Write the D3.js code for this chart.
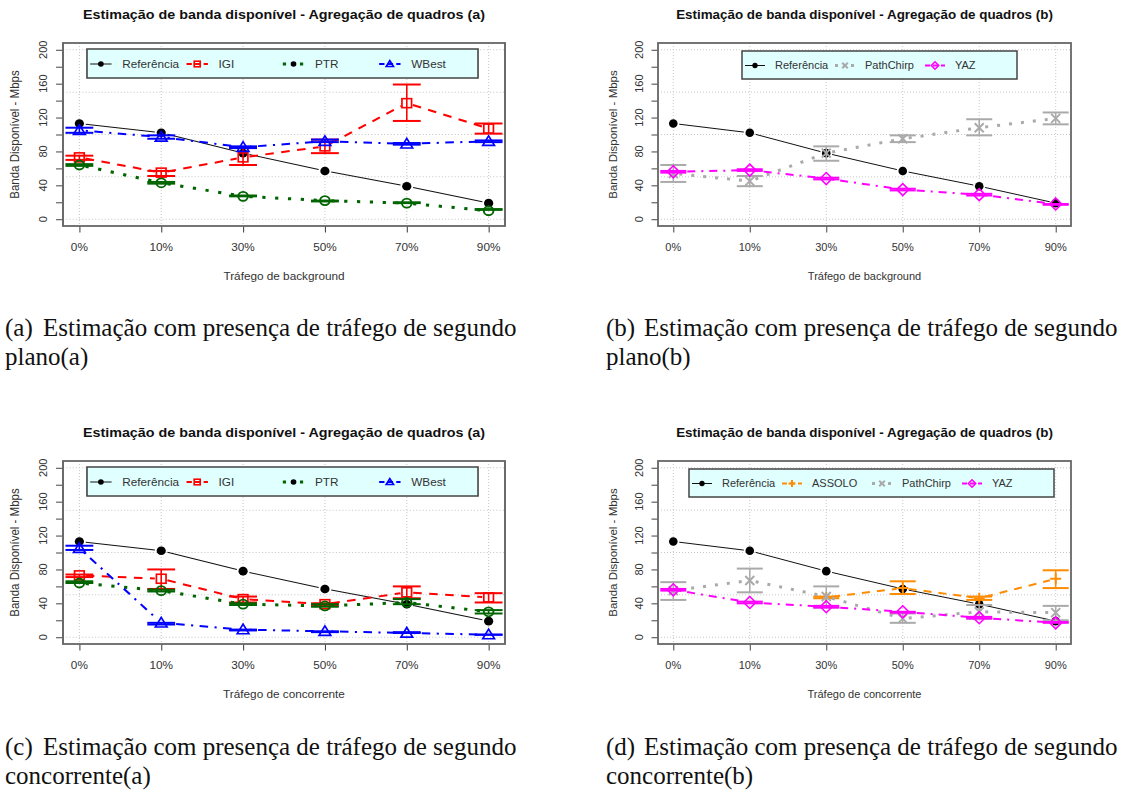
<!DOCTYPE html>
<html>
<head>
<meta charset="utf-8">
<script src="https://cdn.jsdelivr.net/npm/d3@7"></script>
<style>
  body { margin: 0; background: #fff; }
  text { font-family: "Liberation Sans", Arial, sans-serif; }
  .cap { font-family: "Liberation Serif", "Times New Roman", serif; font-size: 25px; fill: #111; }
</style>
</head>
<body>
<svg id="fig" width="1141" height="794"></svg>
<script>
// categories and ticks
var categories = ["0%", "10%", "30%", "50%", "70%", "90%"];
var yTickLabels = [0, 40, 80, 120, 160, 200];
var yMinorTicks = [0, 20, 40, 60, 80, 100, 120, 140, 160, 180, 200];
var yGrid = [0, 50, 100, 150, 200];

// reference (same in every panel)
var refVals = [113, 102, 78, 57, 39, 19];

// (a) background traffic, tools a
var igiA = [73, 55, 73, 86, 137, 107];
var igiALo = [70, 51, 64, 78, 116, 101];
var igiAHi = [75, 57, 84, 94, 159, 113];
var ptrA = [64, 43, 27, 22, 19, 10];
var ptrALo = [63, 42, 27, 21, 19, 11];
var ptrAHi = [65, 44, 28, 22, 20, 12];
var wbestA = [105, 97, 85, 92, 89, 92];
var wbestALo = [102, 95, 84, 91, 88, 91];
var wbestAHi = [108, 99, 86, 94, 90, 93];

// (b) background traffic, tools b
var chirpB = [54, 45, 78, 95, 108, 119];
var chirpBLo = [44, 39, 69, 91, 99, 112];
var chirpBHi = [64, 51, 86, 99, 118, 126];
var yazB = [56, 58, 48, 35, 29, 18];
var yazBLo = [55, 57, 47, 34, 28, 17];
var yazBHi = [57, 59, 49, 36, 30, 18];

// (c) concurrent traffic, tools a
var igiC = [73, 69, 45, 39, 53, 47];
var igiCLo = [71, 57, 41, 37, 46, 41];
var igiCHi = [74, 80, 48, 40, 60, 52];
var ptrC = [64, 55, 39, 37, 41, 30];
var ptrCLo = [64, 54, 38, 36, 39, 28];
var ptrCHi = [66, 56, 40, 39, 45, 32];
var wbestC = [105, 17, 9, 7, 5, 3];
var wbestCLo = [103, 15, 8, 6, 5, 3];
var wbestCHi = [108, 17, 9, 7, 6, 3];

// (d) concurrent traffic, tools b
var assoloD = [null, null, 47, 58, 46, 69];
var assoloDLo = [null, null, 46, 51, 44, 58];
var assoloDHi = [null, null, 48, 66, 48, 79];
var chirpD = [55, 67, 48, 22, 30, 29];
var chirpDLo = [44, 53, 35, 17, 22, 20];
var chirpDHi = [65, 81, 60, 28, 38, 37];
var yazD = [56, 41, 36, 30, 23, 17];
var yazDLo = [55, 40, 35, 29, 22, 17];
var yazDHi = [57, 42, 37, 30, 24, 18];

var styles = {
  ref:    {label: "Referência", color: "#111",    lw: 1, dash: null,          shape: "dot",      leg: "dot"},
  igi:    {label: "IGI",        color: "#ff0000", lw: 2, dash: "8,7",         shape: "square",   leg: "square"},
  ptr:    {label: "PTR",        color: "#006400", lw: 3, dash: "3,9",         shape: "circle",   leg: "dot"},
  wbest:  {label: "WBest",      color: "#0000ff", lw: 2, dash: "2,6,8,6",     shape: "triangle", leg: "triangle"},
  assolo: {label: "ASSOLO",     color: "#ff8c00", lw: 2, dash: "8,7",         shape: "plus",     leg: "plus"},
  chirp:  {label: "PathChirp",  color: "#aaaaaa", lw: 3, dash: "3,9",         shape: "cross",    leg: "cross"},
  yaz:    {label: "YAZ",        color: "#ff00ff", lw: 2, dash: "2,6,8,6",     shape: "diamond",  leg: "diamond"}
};

var titleA = "Estimação de banda disponível - Agregação de quadros (a)";
var titleB = "Estimação de banda disponível - Agregação de quadros (b)";

var panels = [
  {left: 63, top: 43, sx: 1.0702, title: titleA, xlab: "Tráfego de background",
   leg: {x: 22.4, y: 6, w: 365.4, h: 29},
   series: [{s: "ref", v: refVals}, {s: "igi", v: igiA, lo: igiALo, hi: igiAHi},
            {s: "ptr", v: ptrA, lo: ptrALo, hi: ptrAHi}, {s: "wbest", v: wbestA, lo: wbestALo, hi: wbestAHi}]},
  {left: 658, top: 43, sx: 1, title: titleB, xlab: "Tráfego de background",
   leg: {x: 84, y: 8, w: 275, h: 28},
   series: [{s: "ref", v: refVals}, {s: "chirp", v: chirpB, lo: chirpBLo, hi: chirpBHi},
            {s: "yaz", v: yazB, lo: yazBLo, hi: yazBHi}]},
  {left: 63, top: 461, sx: 1.0702, title: titleA, xlab: "Tráfego de concorrente",
   leg: {x: 22.4, y: 6, w: 365.4, h: 29},
   series: [{s: "ref", v: refVals}, {s: "igi", v: igiC, lo: igiCLo, hi: igiCHi},
            {s: "ptr", v: ptrC, lo: ptrCLo, hi: ptrCHi}, {s: "wbest", v: wbestC, lo: wbestCLo, hi: wbestCHi}]},
  {left: 658, top: 461, sx: 1, title: titleB, xlab: "Tráfego de concorrente",
   leg: {x: 31, y: 8, w: 365, h: 28},
   series: [{s: "ref", v: refVals}, {s: "assolo", v: assoloD, lo: assoloDLo, hi: assoloDHi},
            {s: "chirp", v: chirpD, lo: chirpDLo, hi: chirpDHi}, {s: "yaz", v: yazD, lo: yazDLo, hi: yazDHi}]}
];

var captions = [
  {x: 5,   y: 336, tag: "(a)", lines: ["Estimação com presença de tráfego de segundo", "plano(a)"]},
  {x: 606, y: 336, tag: "(b)", lines: ["Estimação com presença de tráfego de segundo", "plano(b)"]},
  {x: 5,   y: 755, tag: "(c)", lines: ["Estimação com presença de tráfego de segundo", "concorrente(a)"]},
  {x: 606, y: 755, tag: "(d)", lines: ["Estimação com presença de tráfego de segundo", "concorrente(b)"]}
];

var boxW = 413, boxH = 183;
var svg = d3.select("#fig");

function marker(g, shape, cx, cy, k, color) {
  var s = 4.5 * k;
  if (shape == "dot") {
    g.append("circle").attr("cx", cx).attr("cy", cy).attr("r", 4.3 * k).attr("fill", "#000");
  } else if (shape == "square") {
    g.append("rect").attr("x", cx - s).attr("y", cy - s).attr("width", 2 * s).attr("height", 2 * s)
      .attr("fill", "none").attr("stroke", color).attr("stroke-width", 1.6);
  } else if (shape == "circle") {
    g.append("circle").attr("cx", cx).attr("cy", cy).attr("r", s)
      .attr("fill", "none").attr("stroke", color).attr("stroke-width", 1.8);
  } else if (shape == "triangle") {
    var h = 5.5 * k;
    g.append("path").attr("d", "M" + cx + "," + (cy - h) + "L" + (cx + h) + "," + (cy + h * 0.75) +
        "L" + (cx - h) + "," + (cy + h * 0.75) + "Z")
      .attr("fill", "none").attr("stroke", color).attr("stroke-width", 1.6);
  } else if (shape == "diamond") {
    var d = 6 * k;
    g.append("path").attr("d", "M" + cx + "," + (cy - d) + "L" + (cx + d) + "," + cy +
        "L" + cx + "," + (cy + d) + "L" + (cx - d) + "," + cy + "Z")
      .attr("fill", "none").attr("stroke", color).attr("stroke-width", 1.6);
  } else if (shape == "cross") {
    g.append("path").attr("d", "M" + (cx - s) + "," + (cy - s) + "L" + (cx + s) + "," + (cy + s) +
        "M" + (cx - s) + "," + (cy + s) + "L" + (cx + s) + "," + (cy - s))
      .attr("stroke", color).attr("stroke-width", 2);
  } else if (shape == "plus") {
    var p = 5.5 * k;
    g.append("path").attr("d", "M" + (cx - p) + "," + cy + "L" + (cx + p) + "," + cy +
        "M" + cx + "," + (cy - p) + "L" + cx + "," + (cy + p))
      .attr("stroke", color).attr("stroke-width", 2);
  }
}

panels.forEach(function(P) {
  var g = svg.append("g").attr("transform", "translate(" + P.left + "," + P.top + ") scale(" + P.sx + ",1)");

  var x = d3.scaleLinear().domain([0.8, 6.2]).range([0, boxW]);
  var y = d3.scaleLinear().domain([-8, 208]).range([boxH, 0]);

  // grid
  g.selectAll(".vg").data(categories).enter().append("line")
    .attr("x1", function(d, i) { return x(i + 1); }).attr("x2", function(d, i) { return x(i + 1); })
    .attr("y1", 0).attr("y2", boxH)
    .attr("stroke", "#c8c8c8").attr("stroke-dasharray", "1,2");
  g.selectAll(".hg").data(yGrid).enter().append("line")
    .attr("x1", 0).attr("x2", boxW)
    .attr("y1", function(d) { return y(d); }).attr("y2", function(d) { return y(d); })
    .attr("stroke", "#c8c8c8").attr("stroke-dasharray", "1,2");

  // axes
  var yAxis = g.append("g").call(d3.axisLeft(y).tickValues(yMinorTicks).tickSize(6.5).tickFormat(""));
  yAxis.select(".domain").remove();
  yAxis.selectAll("line").attr("stroke", "#444");
  g.selectAll(".yl").data(yTickLabels).enter().append("text")
    .attr("transform", function(d) { return "translate(-19," + y(d) + ") rotate(-90)"; })
    .attr("text-anchor", "middle").attr("dy", "0.35em")
    .attr("font-size", 11).attr("fill", "#333").text(function(d) { return d; });

  var xAxis = g.append("g").attr("transform", "translate(0," + boxH + ")")
    .call(d3.axisBottom(x).tickValues(d3.range(1, 7)).tickSize(6.5).tickFormat(""));
  xAxis.select(".domain").remove();
  xAxis.selectAll("line").attr("stroke", "#444");
  g.selectAll(".xl").data(categories).enter().append("text")
    .attr("x", function(d, i) { return x(i + 1); }).attr("y", boxH + 25)
    .attr("text-anchor", "middle").attr("font-size", 11).attr("fill", "#333")
    .text(function(d) { return d; });

  // titles
  g.append("text").attr("x", boxW / 2).attr("y", -24).attr("text-anchor", "middle")
    .attr("font-size", 13.4).attr("font-weight", "bold").attr("fill", "#111").text(P.title);
  g.append("text").attr("x", boxW / 2).attr("y", boxH + 54).attr("text-anchor", "middle")
    .attr("font-size", 11).attr("fill", "#333").text(P.xlab);
  g.append("text").attr("transform", "translate(-45," + boxH / 2 + ") rotate(-90)")
    .attr("text-anchor", "middle").attr("dy", "0.35em")
    .attr("font-size", 11.5).attr("fill", "#333").text("Banda Disponível - Mbps");

  // series
  P.series.forEach(function(S) {
    var st = styles[S.s];
    var pts = [];
    S.v.forEach(function(v, i) { if (v != null) pts.push([x(i + 1), y(v), i]); });
    // lines with gaps at points (type "b")
    var gap = 6;
    for (var k = 0; k < pts.length - 1; k++) {
      var a = pts[k], b = pts[k + 1];
      if (b[2] != a[2] + 1) continue;
      var dx = b[0] - a[0], dy = b[1] - a[1], len = Math.sqrt(dx * dx + dy * dy);
      if (len <= 2 * gap) continue;
      var ux = dx / len, uy = dy / len;
      g.append("line")
        .attr("x1", a[0] + ux * gap).attr("y1", a[1] + uy * gap)
        .attr("x2", b[0] - ux * gap).attr("y2", b[1] - uy * gap)
        .attr("stroke", st.color).attr("stroke-width", st.lw)
        .attr("stroke-dasharray", st.dash);
    }
    // error bars
    if (S.lo) {
      S.v.forEach(function(v, i) {
        if (v == null) return;
        var cx = x(i + 1), c = x(1.17) - x(1);
        g.append("line").attr("x1", cx).attr("x2", cx).attr("y1", y(S.lo[i])).attr("y2", y(S.hi[i]))
          .attr("stroke", st.color).attr("stroke-width", 1.5);
        [S.lo[i], S.hi[i]].forEach(function(e) {
          g.append("line").attr("x1", cx - c).attr("x2", cx + c).attr("y1", y(e)).attr("y2", y(e))
            .attr("stroke", st.color).attr("stroke-width", 2);
        });
      });
    }
    pts.forEach(function(p) { marker(g, st.shape, p[0], p[1], 1, st.color); });
  });

  // legend
  var L = P.leg;
  var lg = g.append("g").attr("transform", "translate(" + L.x + "," + L.y + ")");
  lg.append("rect").attr("width", L.w).attr("height", L.h)
    .attr("fill", "#e0ffff").attr("stroke", "#444").attr("stroke-width", 1.5);
  P.series.forEach(function(S, i) {
    var st = styles[S.s];
    var x0 = 3 + i * 90, cy = L.h / 2 + 0.5;
    lg.append("line").attr("x1", x0).attr("x2", x0 + 20).attr("y1", cy).attr("y2", cy)
      .attr("stroke", st.color).attr("stroke-width", st.lw)
      .attr("stroke-dasharray", st.dash ? (st.lw == 3 ? "3,5" : "5,3") : null);
    marker(lg, st.leg, x0 + 10, cy, 0.62, st.color);
    lg.append("text").attr("x", x0 + 30).attr("y", cy).attr("dy", "0.35em")
      .attr("font-size", 11).attr("fill", "#333").text(st.label);
  });

  // box
  g.append("rect").attr("width", boxW).attr("height", boxH)
    .attr("fill", "none").attr("stroke", "#666").attr("stroke-width", 1.8);
});

// captions
captions.forEach(function(C) {
  var t = svg.append("g");
  t.append("text").attr("class", "cap").attr("x", C.x).attr("y", C.y).text(C.tag);
  t.append("text").attr("class", "cap").attr("x", C.x + 38).attr("y", C.y).text(C.lines[0]);
  t.append("text").attr("class", "cap").attr("x", C.x).attr("y", C.y + 29).text(C.lines[1]);
});
</script>
</body>
</html>
